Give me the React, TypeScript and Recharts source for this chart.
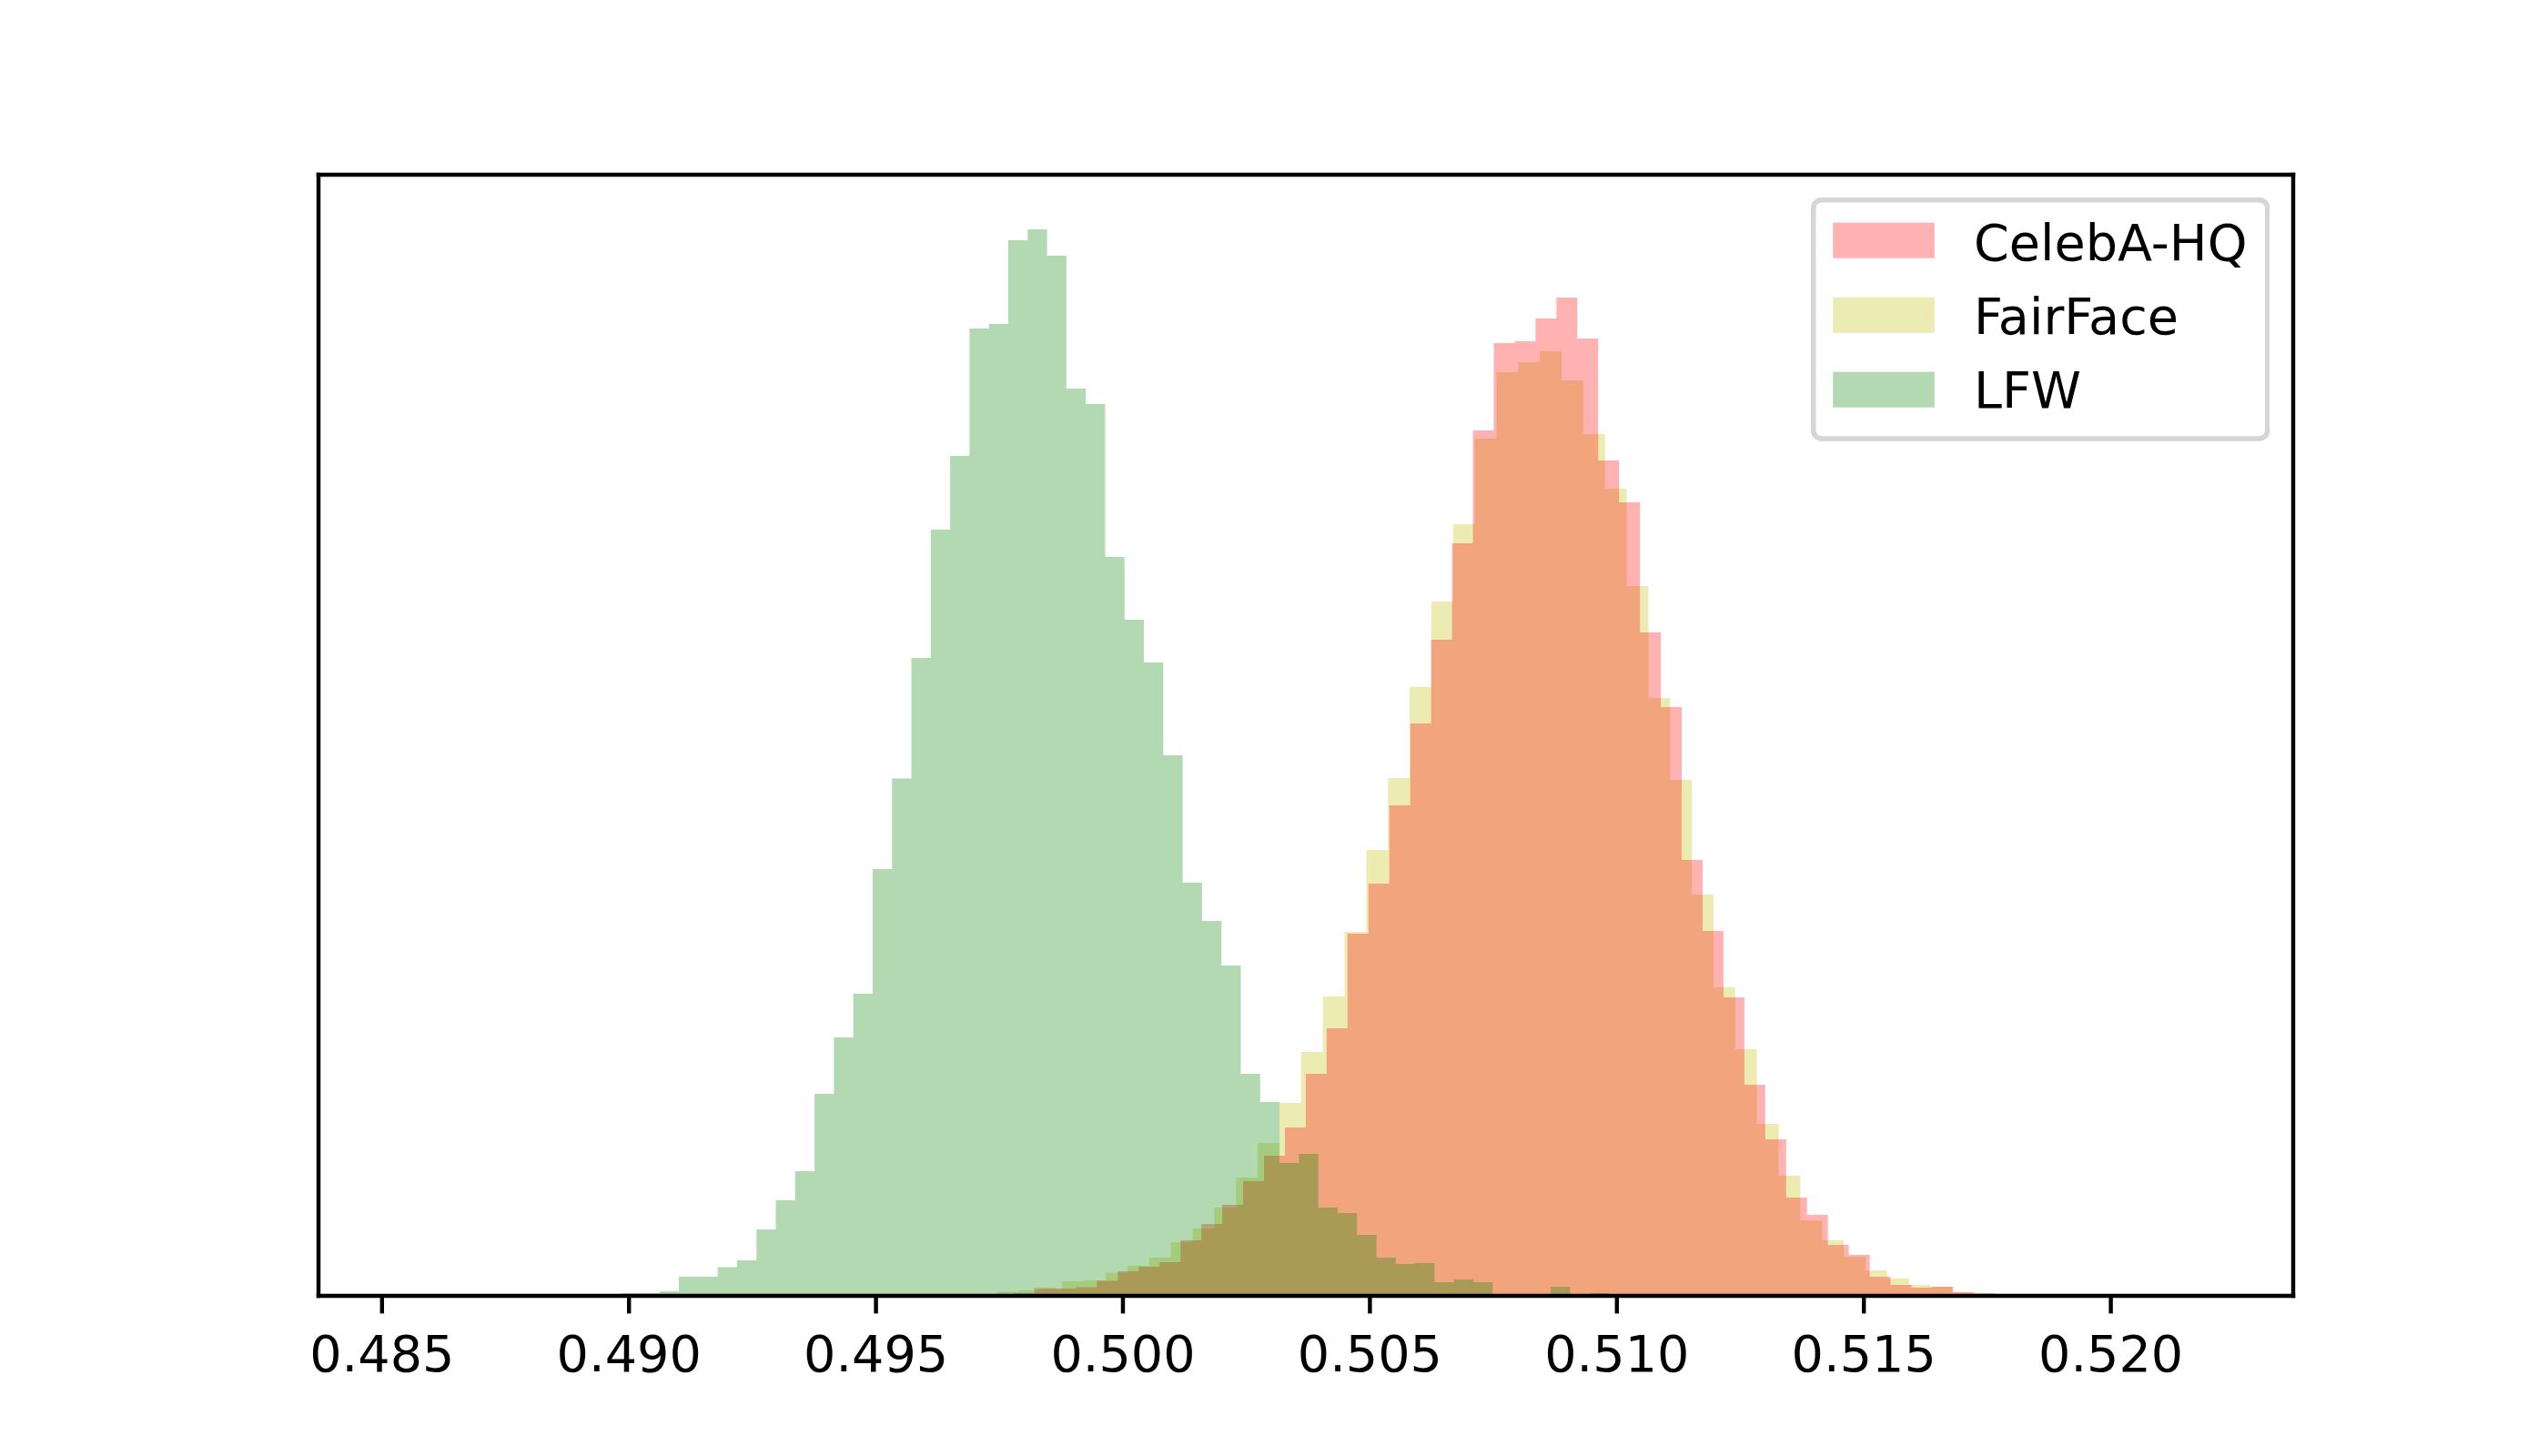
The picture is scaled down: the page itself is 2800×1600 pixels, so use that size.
import React from 'react';
import { ComposedChart, Area, XAxis, YAxis, Legend } from 'recharts';

// ---- data (heights, arbitrary count units) ----
const seriesNames = ['CelebA-HQ', 'FairFace', 'LFW'];

const celebaBinStart = 0.496937;
const celebaBinWidth = 0.00042281;
const celebaCounts = [
  1, 1.5, 3, 8.5, 8, 9.5, 16.5, 27, 32, 37, 61, 79, 100, 126, 154,
  185, 244, 294, 398, 453, 539, 629, 721, 827, 951, 1047, 1049, 1074, 1097, 1052,
  918, 872, 729, 647, 479, 401, 328, 232, 172, 108, 89, 56, 45, 21, 12, 9, 10, 4, 3, 1,
];

const fairfaceBinStart = 0.497017;
const fairfaceBinWidth = 0.00043939;
const fairfaceCounts = [
  1.7, 4.5, 6, 7.5, 16, 17, 25.5, 33, 42, 59, 74, 97, 130, 168,
  212, 268, 329, 400, 490, 569, 669, 763, 848, 942, 1015, 1026, 1038, 1006, 947, 887,
  780, 657, 567, 441, 339, 271, 189, 132, 83, 61, 43, 28, 19, 12, 10, 3.5, 1.5,
];

const lfwBinStart = 0.489442;
const lfwBinWidth = 0.00039223;
const lfwCounts = [
  2, 3, 3, 5, 21, 21, 31.5, 39, 73, 105,
  137, 222, 284, 332, 469, 568.5, 701, 842, 923, 1063,
  1068, 1160, 1172, 1143, 997, 980, 812, 743, 696, 594,
  454, 412, 363, 244, 213, 146, 156, 97, 91, 67,
  42, 35, 36, 15, 18, 15, 0, 0, 2, 10,
  0, 3, 0, 0, 0, 0, 0, 0, 0, 2,
];

const xTicks = [0.485, 0.49, 0.495, 0.5, 0.505, 0.51, 0.515, 0.52];
const xTickLabels = ['0.485', '0.490', '0.495', '0.500', '0.505', '0.510', '0.515', '0.520'];

const X_DOMAIN: [number, number] = [0.4837141, 0.523692];
const Y_DOMAIN: [number, number] = [0, 1232];

const colors = {
  celeba: '#ff0000',
  fairface: '#bfbf00',
  lfw: '#008000',
};

function toSteps(start: number, width: number, counts: number[]) {
  const pts = counts.map((c, i) => ({ x: start + i * width, y: c }));
  pts.push({ x: start + counts.length * width, y: 0 });
  return pts;
}

const celebaData = toSteps(celebaBinStart, celebaBinWidth, celebaCounts);
const fairfaceData = toSteps(fairfaceBinStart, fairfaceBinWidth, fairfaceCounts);
const lfwData = toSteps(lfwBinStart, lfwBinWidth, lfwCounts);

const FONT = 'DejaVu Sans, Liberation Sans, sans-serif';
const SPINE = 4.44;
const spineStyle = { stroke: '#000', strokeWidth: SPINE, strokeLinecap: 'square' as const };

const legendItems = [
  { name: seriesNames[0], color: colors.celeba },
  { name: seriesNames[1], color: colors.fairface },
  { name: seriesNames[2], color: colors.lfw },
];

function LegendBox() {
  const W = 504.5;
  const H = 267.7;
  const rowTop = [27.7, 109.7, 191.7];
  const baselines = [68.7, 149.7, 230.7];
  return (
    <svg width={W} height={H} style={{ display: 'block' }}>
      <rect x={2.75} y={2.75} width={W - 5.5} height={H - 5.5} rx={9} ry={9}
        fill="#ffffff" fillOpacity={0.8} stroke="#d6d6d6" strokeWidth={5.5} />
      {legendItems.map((it, i) => (
        <g key={it.name}>
          <rect x={24.3} y={rowTop[i]} width={111.5} height={39} fill={it.color} fillOpacity={0.3} />
          <text x={179} y={baselines[i]} fontFamily={FONT} fontSize={55.6} fill="#000">
            {it.name}
          </text>
        </g>
      ))}
    </svg>
  );
}

const fmt = (v: number) => {
  const idx = xTicks.findIndex((t) => Math.abs(t - v) < 1e-9);
  return idx >= 0 ? xTickLabels[idx] : v.toFixed(3);
};

export default function App() {
  return (
    <div style={{ position: 'absolute', left: 0, top: 0, width: 2800, height: 1600, background: '#fff' }}>
      <ComposedChart width={2800} height={1600} margin={{ top: 191, right: 279, bottom: 76, left: 349 }}>
        <Area xAxisId="b" yAxisId="l" data={fairfaceData} dataKey="y" type="stepAfter" name={seriesNames[1]}
          stroke="none" fill={colors.fairface} fillOpacity={0.3} dot={false} activeDot={false} isAnimationActive={false} />
        <Area xAxisId="b" yAxisId="l" data={celebaData} dataKey="y" type="stepAfter" name={seriesNames[0]}
          stroke="none" fill={colors.celeba} fillOpacity={0.3} dot={false} activeDot={false} isAnimationActive={false} />
        <Area xAxisId="b" yAxisId="l" data={lfwData} dataKey="y" type="stepAfter" name={seriesNames[2]}
          stroke="none" fill={colors.lfw} fillOpacity={0.3} dot={false} activeDot={false} isAnimationActive={false} />
        <XAxis xAxisId="b" type="number" dataKey="x" domain={X_DOMAIN} allowDataOverflow ticks={xTicks}
          interval={0} tickFormatter={fmt} height={100} tickSize={19.4} tickMargin={24}
          axisLine={spineStyle}
          tickLine={{ stroke: '#000', strokeWidth: SPINE }}
          tick={{ fill: '#000', fontSize: 55.6, fontFamily: FONT }} />
        <XAxis xAxisId="t" orientation="top" type="number" dataKey="x" domain={X_DOMAIN} allowDataOverflow
          height={1} tick={false} tickLine={false} axisLine={spineStyle} />
        <YAxis yAxisId="l" type="number" domain={Y_DOMAIN} allowDataOverflow width={1} tick={false} tickLine={false}
          axisLine={spineStyle} />
        <YAxis yAxisId="r" orientation="right" type="number" domain={Y_DOMAIN} allowDataOverflow width={1} tick={false}
          tickLine={false} axisLine={spineStyle} />
        <Legend layout="horizontal" verticalAlign="middle" align="center"
          wrapperStyle={{ position: 'absolute', left: 1989.5, top: 217.3, width: 504.5, height: 267.7, margin: 0, padding: 0, lineHeight: 0 }}
          content={() => <LegendBox />} />
      </ComposedChart>
    </div>
  );
}
